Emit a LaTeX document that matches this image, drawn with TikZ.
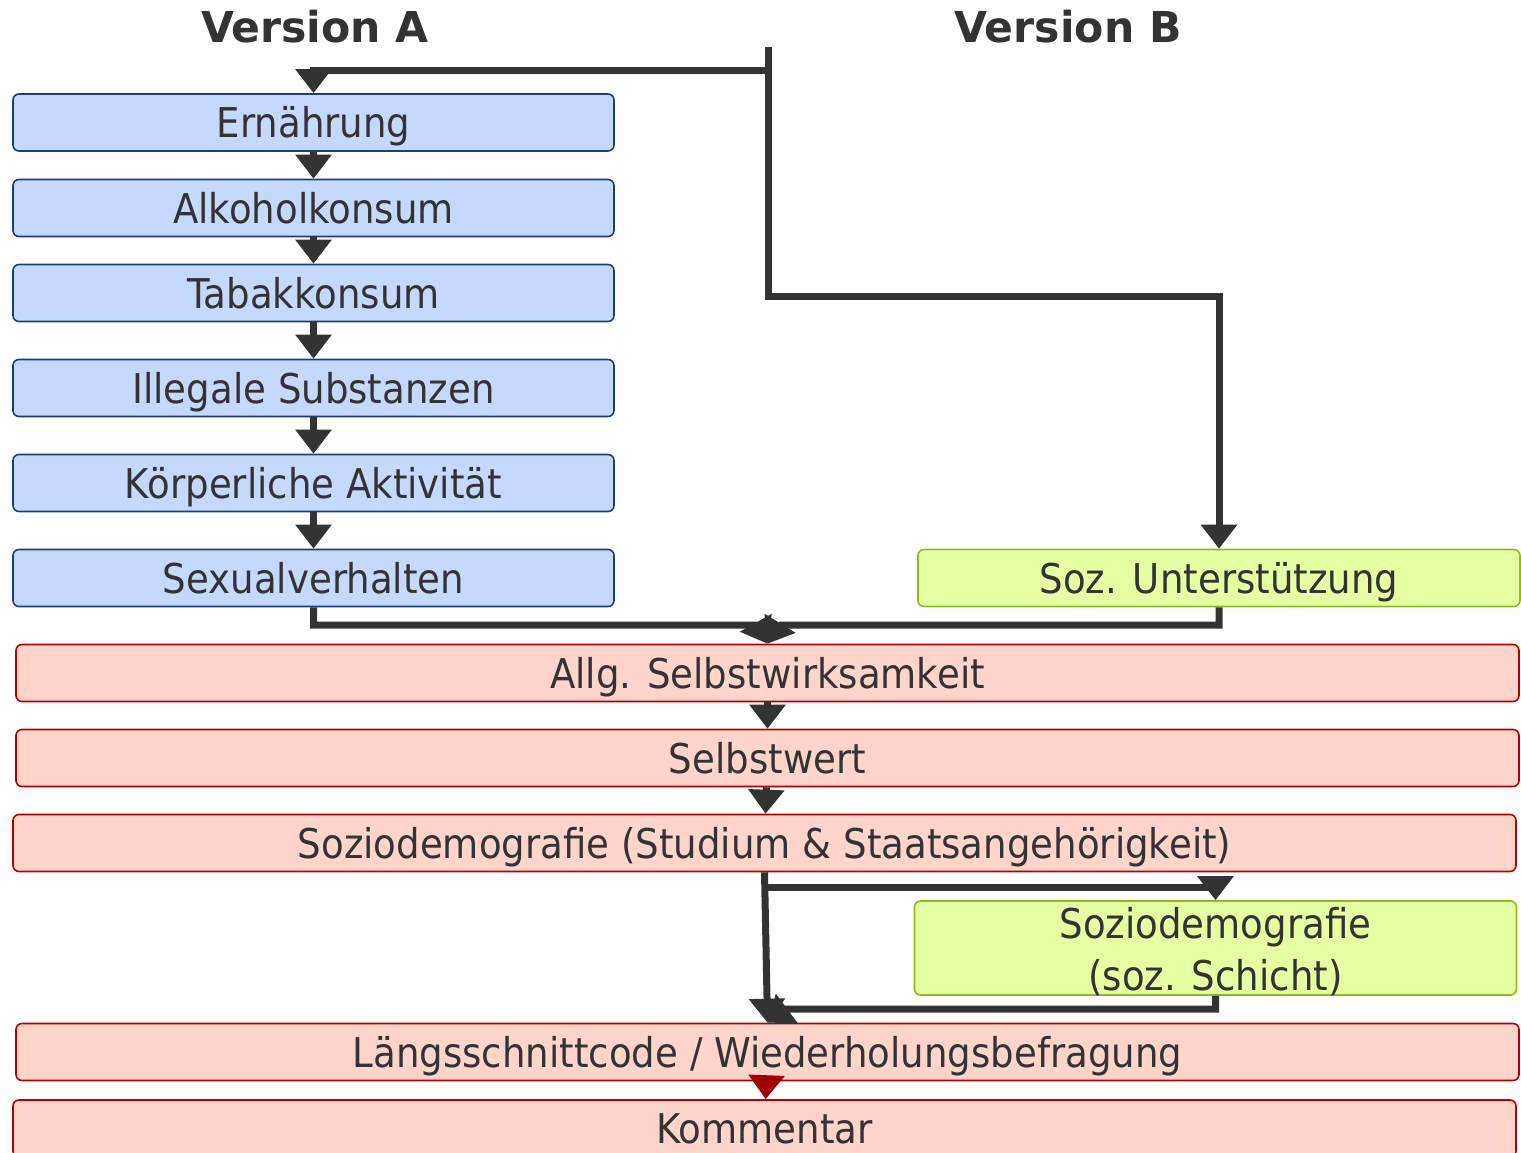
\documentclass[tikz,border=0pt]{standalone}
\usepackage{fontspec}
\setmainfont{DejaVu Sans}[FakeStretch=0.905]
\newfontfamily\titlefont{DejaVu Sans}
\usetikzlibrary{arrows.meta,calc}

\definecolor{txtgray}{HTML}{333333}
\definecolor{bluefill}{HTML}{C5D9FE}
\definecolor{blueline}{HTML}{1C3C74}
\definecolor{redfill}{HTML}{FFD5CB}
\definecolor{redline}{HTML}{B00000}
\definecolor{greenfill}{HTML}{E5FFA2}
\definecolor{greenline}{HTML}{8DBB1F}
\definecolor{tipred}{HTML}{A00000}

\tikzset{
  box/.style={rounded corners=3pt, line width=0.8pt, inner sep=0pt,
    minimum height=28.5pt, text=txtgray, align=center,
    font=\fontsize{20.5}{26}\selectfont, text height=15pt, text depth=0pt},
  boxA/.style={box, draw=blueline, fill=bluefill, minimum width=300.5pt},
  boxB/.style={box, draw=greenline, fill=greenfill, minimum width=301pt},
  boxall/.style={box, draw=redline, fill=redfill, minimum width=751.5pt},
  conn/.style={draw=txtgray, line width=3.5pt},
  arr/.style={conn, -{Triangle[width=17.5pt,length=12pt]}},
  heading/.style={text=txtgray, font=\titlefont\bfseries\fontsize{21.3}{24}\selectfont}
}

\begin{document}
\begin{tikzpicture}[x=0.5pt,y=-0.5pt]
\useasboundingbox (0,0) rectangle (1521,1152);

% Ueberschriften
\node[heading] (verA) at (315,27) {Version A};
\node[heading] (verB) at (1068,27) {Version B};

% Version A
\node[boxA] (ern) at (313.5,122.5) {Ernährung};
\node[boxA] (alk) at (313.5,208) {Alkoholkonsum};
\node[boxA] (tab) at (313.5,293) {Tabakkonsum};
\node[boxA] (ill) at (313.5,388) {Illegale Substanzen};
\node[boxA] (koer) at (313.5,483) {Körperliche Aktivität};
\node[boxA] (sex) at (313.5,578) {Sexualverhalten};

% Version B
\node[boxB] (soz) at (1219,578) {Soz. Unterstützung};

% gemeinsamer Teil
\node[boxall] (allg) at (767.5,673) {Allg. Selbstwirksamkeit};
\node[boxall] (selb) at (767.5,758) {Selbstwert};
\node[boxall] (sozio) at (764.5,843) {Soziodemografie (Studium \& Staatsangehörigkeit)};
\node[boxB, minimum height=47pt, text height=42pt] (schicht) at (1215.5,948) {Soziodemografie\\(soz. Schicht)};
\node[boxall] (laengs) at (767.5,1052) {Längsschnittcode / Wiederholungsbefragung};
\node[boxall] (komm) at (764.5,1128.5) {Kommentar};

% Verzweigung oben
\coordinate (start) at (768,47);
\coordinate (splitA) at (768,70);
\coordinate (splitB) at (768,296);
\draw[arr] (splitA) -| (ern.north);
\draw[arr] (start) -- (splitB) -| (soz.north);

% Kette Version A
\draw[arr] (ern) -- (alk);
\draw[arr] (alk) -- (tab);
\draw[arr] (tab) -- (ill);
\draw[arr] (ill) -- (koer);
\draw[arr] (koer) -- (sex);

% Zusammenfuehrung
\coordinate (mergeL) at (757,625);
\coordinate (mergeR) at (779,625);
\draw[arr] (sex.south) |- (mergeL) -- (allg.north);
\draw[arr] (soz.south) |- (mergeR) -- (allg.north);

\draw[arr] (allg) -- (selb);
\draw[arr] (selb) -- (sozio);

% soz. Schicht
\coordinate (splitC) at ($(sozio.south)+(0,15)$);
\coordinate (joinC) at (786,1009);
\draw[arr] (sozio.south) -- (laengs.north);
\draw[arr] (splitC) -| (schicht.north);
\draw[arr] (schicht.south) |- (joinC) -- (laengs.north);

\draw[arr, draw=tipred] (laengs) -- (komm);
\end{tikzpicture}
\end{document}
